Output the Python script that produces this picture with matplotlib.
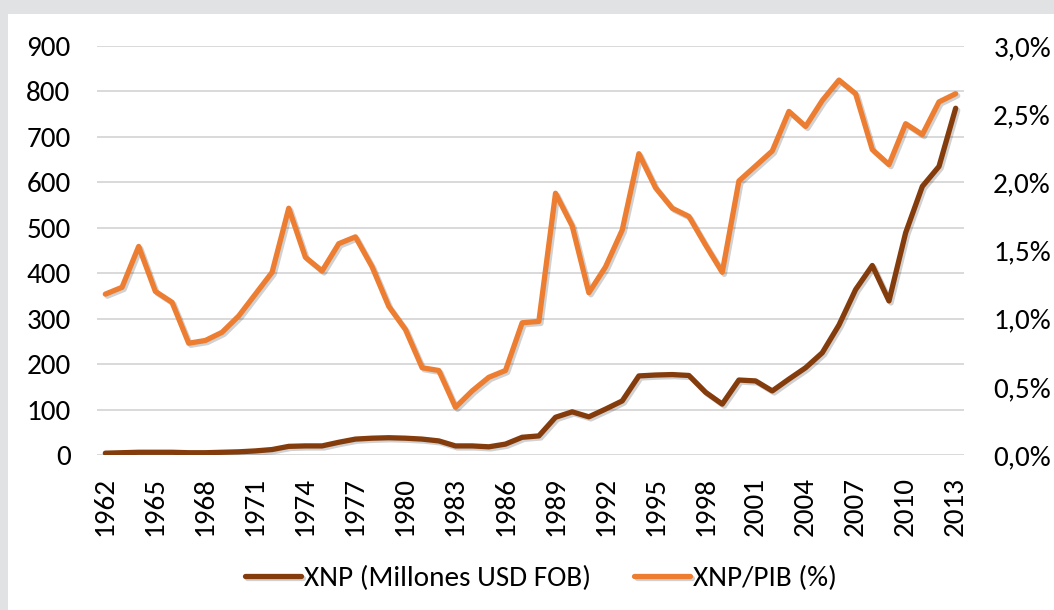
import numpy as np
import matplotlib
matplotlib.use('Agg')
import matplotlib.pyplot as plt
import matplotlib.patheffects as pe
from matplotlib.ticker import FuncFormatter

plt.rcParams['font.family'] = ['Carlito', 'Lato', 'DejaVu Sans']

years = list(range(1962, 2014))

# XNP (Millones USD FOB) - eje izquierdo
xnp = [4, 5, 6, 6, 6, 5, 5, 6, 7, 9,
       12, 19, 20, 20, 28, 35, 37, 38, 37, 35,
       31, 20, 20, 18, 24, 39, 42, 83, 95, 84,
       101, 119, 174, 176, 177, 175, 138, 112, 165, 163,
       141, 167, 192, 225, 286, 364, 417, 339, 489, 591,
       635, 763]

# XNP/PIB (%) - eje derecho
xnp_pib = [1.18, 1.23, 1.53, 1.20, 1.12, 0.82, 0.84, 0.90, 1.02, 1.18,
           1.34, 1.81, 1.45, 1.35, 1.55, 1.60, 1.38, 1.09, 0.92, 0.64,
           0.62, 0.35, 0.47, 0.57, 0.62, 0.97, 0.98, 1.92, 1.68, 1.19,
           1.38, 1.65, 2.21, 1.96, 1.81, 1.75, 1.54, 1.34, 2.01, 2.12,
           2.23, 2.52, 2.41, 2.60, 2.75, 2.65, 2.24, 2.13, 2.43, 2.35,
           2.59, 2.65]

brown = '#843C0C'
orange = '#ED7D31'
grid_c = '#D9D9D9'
fs = 21

fig = plt.figure(figsize=(10.54, 6.10), dpi=100)
fig.patch.set_facecolor('#E1E2E4')
# panel blanco
bg = fig.add_axes([8 / 1054, 0, 1, 1 - 14 / 610], zorder=-10)
bg.axis('off')
bg.add_patch(plt.Rectangle((0, 0), 1, 1, transform=bg.transAxes, color='white'))

ax = fig.add_axes([97 / 1054, 1 - 455 / 610, 867 / 1054, 409 / 610])
ax.set_facecolor('none')
ax2 = ax.twinx()

shadow = [pe.SimpleLineShadow(offset=(1.5, -1.5), alpha=0.18, shadow_color='black'), pe.Normal()]

l1, = ax.plot(years, xnp, color=brown, lw=3.8, solid_capstyle='round',
              solid_joinstyle='round', path_effects=shadow, label='XNP (Millones USD FOB)')
l2, = ax2.plot(years, xnp_pib, color=orange, lw=3.8, solid_capstyle='round',
               solid_joinstyle='round', path_effects=shadow, label='XNP/PIB (%)')

ax.set_xlim(1961.5, 2013.5)
ax.set_ylim(0, 900)
ax2.set_ylim(0, 3.0)
ax.set_yticks(range(0, 901, 100))
ax2.set_yticks(np.arange(0, 3.01, 0.5))
ax2.yaxis.set_major_formatter(FuncFormatter(lambda v, p: f'{v:.1f}%'.replace('.', ',')))
ax.set_xticks(years[::3])
ax.set_xticklabels([str(y) for y in years[::3]], rotation=90, va='top')

ax.grid(axis='y', color=grid_c, lw=1.4)
ax.set_axisbelow(True)
for a in (ax, ax2):
    for s in a.spines.values():
        s.set_visible(False)
    a.tick_params(length=0, labelsize=fs)
ax.tick_params(axis='y', pad=19)
ax.tick_params(axis='x', pad=16)
ax2.tick_params(axis='y', pad=21)

fig.legend(handles=[l1, l2], loc='center', bbox_to_anchor=(541 / 1054, 1 - 578 / 610),
           ncol=2, frameon=False, fontsize=fs, handlelength=1.9, handletextpad=0.1,
           columnspacing=1.5)

fig.savefig('out.png', dpi=100, facecolor=fig.get_facecolor())
